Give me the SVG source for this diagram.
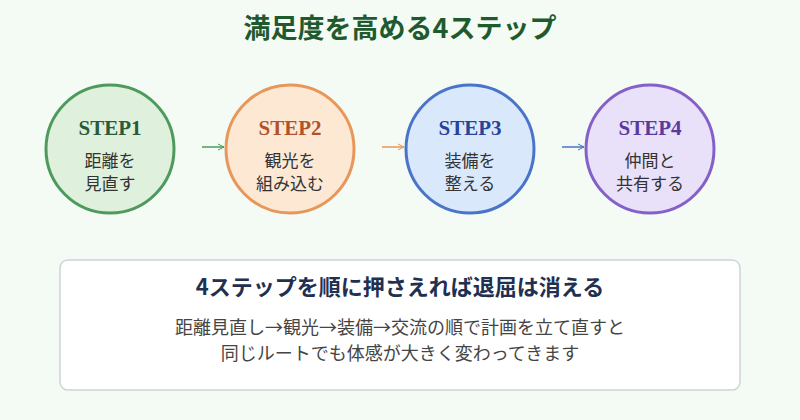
<svg xmlns="http://www.w3.org/2000/svg" width="800" height="420" viewBox="0 0 800 420">
<defs>
<style>
.jp{font-family:"Noto Sans CJK JP","Noto Sans",sans-serif}
.step{font-family:"Liberation Serif",serif;font-weight:bold;font-size:21px;text-anchor:middle}
.lbl{font-family:"Noto Sans CJK JP",sans-serif;font-size:17px;fill:#333;text-anchor:middle}
.conn{stroke-width:1.5;fill:none}
</style>
<marker id="ag" markerWidth="8" markerHeight="8" refX="7" refY="4" orient="auto" markerUnits="userSpaceOnUse"><path d="M1,1 L7,4 L1,7" fill="none" stroke="#4e9a5c" stroke-width="1"/></marker>
<marker id="ao" markerWidth="8" markerHeight="8" refX="7" refY="4" orient="auto" markerUnits="userSpaceOnUse"><path d="M1,1 L7,4 L1,7" fill="none" stroke="#e8975a" stroke-width="1"/></marker>
<marker id="ab" markerWidth="8" markerHeight="8" refX="7" refY="4" orient="auto" markerUnits="userSpaceOnUse"><path d="M1,1 L7,4 L1,7" fill="none" stroke="#4a74c9" stroke-width="1"/></marker>
</defs>
<rect width="800" height="420" fill="#f3fbf4"/>
<text x="400" y="38" class="jp" font-size="27" font-weight="bold" fill="#1f5a2e" text-anchor="middle">満足度を高める4ステップ</text>
<g id="connectors">
<line x1="202" y1="147" x2="224" y2="147" class="conn" stroke="#4e9a5c" marker-end="url(#ag)"/>
<line x1="382" y1="147" x2="404" y2="147" class="conn" stroke="#e8975a" marker-end="url(#ao)"/>
<line x1="562" y1="147" x2="584" y2="147" class="conn" stroke="#4a74c9" marker-end="url(#ab)"/>
</g>
<g id="step1">
<circle cx="110" cy="149" r="64" fill="#dff0dd" stroke="#4e9a5c" stroke-width="3"/>
<text x="110" y="135" class="step" fill="#2a5a3a">STEP1</text>
<text x="110" y="167" class="lbl">距離を</text>
<text x="110" y="190" class="lbl">見直す</text>
</g>
<g id="step2">
<circle cx="290" cy="149" r="64" fill="#fde8d4" stroke="#e8975a" stroke-width="3"/>
<text x="290" y="135" class="step" fill="#b0532a">STEP2</text>
<text x="290" y="167" class="lbl">観光を</text>
<text x="290" y="190" class="lbl">組み込む</text>
</g>
<g id="step3">
<circle cx="470" cy="149" r="64" fill="#dae8fb" stroke="#4a74c9" stroke-width="3"/>
<text x="470" y="135" class="step" fill="#27449a">STEP3</text>
<text x="470" y="167" class="lbl">装備を</text>
<text x="470" y="190" class="lbl">整える</text>
</g>
<g id="step4">
<circle cx="650" cy="149" r="64" fill="#e9e0fa" stroke="#8460c8" stroke-width="3"/>
<text x="650" y="135" class="step" fill="#5a3a9a">STEP4</text>
<text x="650" y="167" class="lbl">仲間と</text>
<text x="650" y="190" class="lbl">共有する</text>
</g>
<g id="summary">
<rect x="60" y="260" width="680" height="130" rx="8" fill="#ffffff" stroke="#cfd3d6" stroke-width="1.5"/>
<text x="400" y="295" class="jp" font-size="22" font-weight="bold" fill="#1f3050" text-anchor="middle">4ステップを順に押さえれば退屈は消える</text>
<text x="400" y="334" class="jp" font-size="18" fill="#444" text-anchor="middle">距離見直し→観光→装備→交流の順で計画を立て直すと</text>
<text x="400" y="360" class="jp" font-size="18" fill="#444" text-anchor="middle">同じルートでも体感が大きく変わってきます</text>
</g>
</svg>
